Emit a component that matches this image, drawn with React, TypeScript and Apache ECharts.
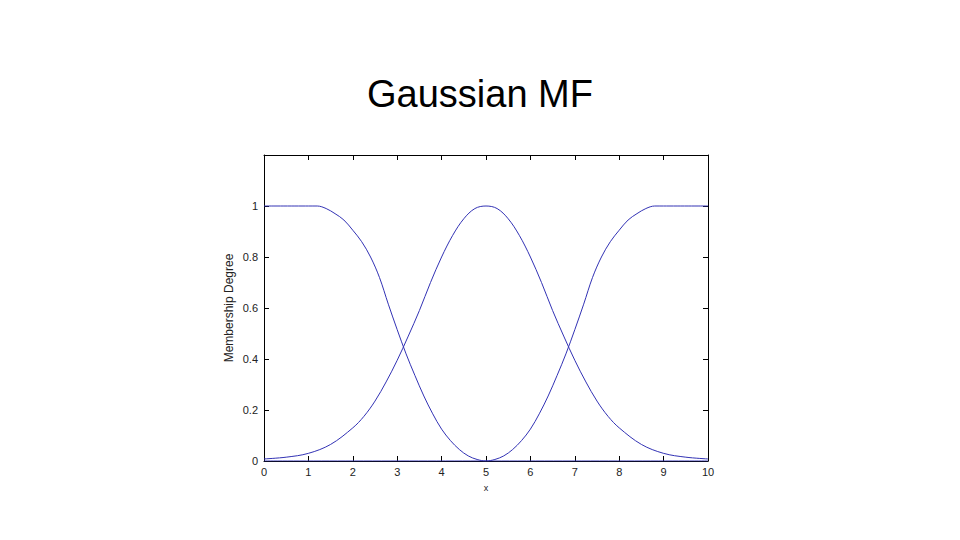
import React, { useEffect, useRef } from "react";
import * as echarts from "echarts";

const titleText = "Gaussian MF";
const xName = "x";
const yName = "Membership Degree";

// Left (Z-shaped) curve
const leftX = [0, 1.0, 1.2, 1.4, 1.6, 1.8, 2.0, 2.2, 2.4, 2.6, 2.8, 3.0, 3.2, 3.4, 3.6, 3.8, 4.0, 4.2, 4.4, 4.6, 4.8, 5.0, 10];
const leftY = [1, 1, 1, 0.99, 0.97, 0.945, 0.905, 0.86, 0.8, 0.72, 0.615, 0.515, 0.42, 0.335, 0.255, 0.185, 0.125, 0.08, 0.045, 0.02, 0.006, 0, 0];

// Middle (Gaussian) curve
const midX = [0, 0.5, 1.0, 1.5, 2.0, 2.25, 2.5, 2.75, 3.0, 3.25, 3.5, 3.75, 4.0, 4.25, 4.5, 4.75, 5.0, 5.25, 5.5, 5.75, 6.0, 6.25, 6.5, 6.75, 7.0, 7.25, 7.5, 7.75, 8.0, 8.5, 9.0, 9.5, 10];
const midY = [0.008, 0.015, 0.03, 0.065, 0.13, 0.175, 0.235, 0.31, 0.395, 0.49, 0.59, 0.7, 0.8, 0.885, 0.95, 0.99, 1, 0.99, 0.95, 0.885, 0.8, 0.7, 0.59, 0.49, 0.395, 0.31, 0.235, 0.175, 0.13, 0.065, 0.03, 0.015, 0.008];

// Right (S-shaped) curve
const rightX = [0, 5.0, 5.2, 5.4, 5.6, 5.8, 6.0, 6.2, 6.4, 6.6, 6.8, 7.0, 7.2, 7.4, 7.6, 7.8, 8.0, 8.2, 8.4, 8.6, 8.8, 9.0, 10];
const rightY = [0, 0, 0.006, 0.02, 0.045, 0.08, 0.125, 0.185, 0.255, 0.335, 0.42, 0.515, 0.615, 0.72, 0.8, 0.86, 0.905, 0.945, 0.97, 0.99, 1, 1, 1];

const yTicks = [0, 0.2, 0.4, 0.6, 0.8, 1];

const LINE_COLOR = "#3232b4";

function pairs(xs: number[], ys: number[]) {
  return xs.map((x, i) => [x, ys[i]]);
}

export default function App() {
  const ref = useRef<HTMLDivElement>(null);
  useEffect(() => {
    if (!ref.current) return;
    const chart = echarts.init(ref.current, null, { renderer: "svg" });
    const font = "Liberation Sans, Arial, sans-serif";
    const tickLabel = { color: "#222", fontSize: 11, fontFamily: font };
    const seriesBase = {
      type: "line" as const,
      showSymbol: false,
      smooth: 0.35,
      lineStyle: { width: 1, color: LINE_COLOR },
      itemStyle: { color: LINE_COLOR },
      z: 5,
    };
    const boxLine = { show: true, onZero: false, lineStyle: { color: "#000", width: 1 } };
    const boxTick = { show: true, inside: true, length: 5, lineStyle: { color: "#000" } };
    chart.setOption({
      animation: false,
      backgroundColor: "#fff",
      title: {
        text: titleText,
        left: "center",
        top: 70,
        textStyle: { fontSize: 38, fontWeight: "normal", color: "#000", fontFamily: font },
      },
      grid: { left: 264, right: 252, top: 155, bottom: 79, containLabel: false },
      xAxis: [
        {
          type: "value",
          min: 0,
          max: 10,
          interval: 1,
          name: xName,
          nameLocation: "middle",
          nameGap: 22,
          nameTextStyle: { fontSize: 9, color: "#222", fontFamily: font },
          axisLine: boxLine,
          axisTick: boxTick,
          axisLabel: { ...tickLabel, margin: 5 },
          splitLine: { show: false },
        },
        {
          type: "value",
          position: "top",
          min: 0,
          max: 10,
          interval: 1,
          axisLine: boxLine,
          axisTick: boxTick,
          axisLabel: { show: false },
          splitLine: { show: false },
        },
      ],
      yAxis: [
        {
          type: "value",
          min: 0,
          max: 1.2,
          interval: 0.2,
          name: yName,
          nameLocation: "middle",
          nameGap: 29,
          nameRotate: 90,
          nameTextStyle: { fontSize: 12, color: "#222", fontFamily: font },
          axisLine: boxLine,
          axisTick: boxTick,
          axisLabel: {
            ...tickLabel,
            margin: 6,
            formatter: (v: number) => {
              const r = parseFloat(v.toFixed(1));
              return yTicks.indexOf(r) >= 0 ? String(r) : "";
            },
          },
          splitLine: { show: false },
        },
        {
          type: "value",
          position: "right",
          min: 0,
          max: 1.2,
          interval: 0.2,
          axisLine: boxLine,
          axisTick: boxTick,
          axisLabel: { show: false },
          splitLine: { show: false },
        },
      ],
      series: [
        { ...seriesBase, name: "left", data: pairs(leftX, leftY) },
        { ...seriesBase, name: "mid", data: pairs(midX, midY) },
        { ...seriesBase, name: "right", data: pairs(rightX, rightY) },
        { type: "line", xAxisIndex: 1, yAxisIndex: 1, data: [], showSymbol: false, silent: true },
      ],
    });
    return () => chart.dispose();
  }, []);
  return (
    <div
      ref={ref}
      style={{ position: "fixed", left: 0, top: 0, width: 960, height: 540, background: "#fff" }}
    />
  );
}
